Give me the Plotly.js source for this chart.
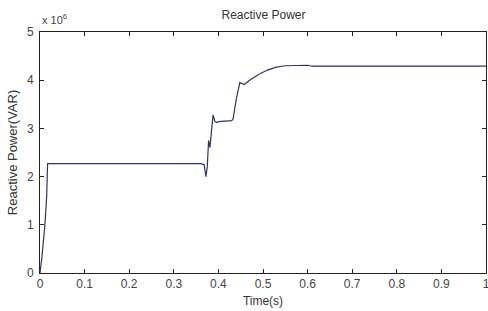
<!DOCTYPE html>
<html>
<head>
<meta charset="utf-8">
<script src="https://cdn.plot.ly/plotly-3.0.1.min.js"></script>
<style>html,body{margin:0;padding:0;background:#fff;}#chart{width:488px;height:311px;}</style>
</head>
<body>
<div id="chart"></div>
<script>
const time = [0, 0.004, 0.011, 0.015, 0.017, 0.02, 0.1, 0.2, 0.3, 0.36, 0.368, 0.372, 0.375, 0.378, 0.381, 0.384, 0.388, 0.392, 0.396, 0.40, 0.41, 0.42, 0.43, 0.433, 0.44, 0.448, 0.452, 0.458, 0.47, 0.49, 0.51, 0.53, 0.55, 0.57, 0.60, 0.61, 0.7, 0.8, 0.9, 1.0];
const reactive = [0, 0.3, 1.0, 1.6, 2.27, 2.27, 2.27, 2.27, 2.27, 2.27, 2.25, 2.0, 2.2, 2.75, 2.6, 2.9, 3.28, 3.15, 3.12, 3.14, 3.15, 3.15, 3.16, 3.2, 3.6, 3.95, 3.93, 3.91, 4.0, 4.12, 4.21, 4.27, 4.30, 4.31, 4.31, 4.29, 4.29, 4.29, 4.29, 4.29];
const xTicks = [0, 0.1, 0.2, 0.3, 0.4, 0.5, 0.6, 0.7, 0.8, 0.9, 1];
const xTickText = ['0', '0.1', '0.2', '0.3', '0.4', '0.5', '0.6', '0.7', '0.8', '0.9', '1'];
const yTicks = [0, 1, 2, 3, 4, 5];
const yTickText = ['0', '1', '2', '3', '4', '5'];
const scale = 1e6;

const FONT = 'Liberation Sans, Arial, sans-serif';

const trace = {
  x: time,
  y: reactive.map(v => v * scale),
  type: 'scatter',
  mode: 'lines',
  line: {color: '#2e3560', width: 1.2},
  hoverinfo: 'skip'
};

const axisCommon = {
  showgrid: false,
  zeroline: false,
  showline: true,
  linecolor: '#222',
  linewidth: 1,
  mirror: 'ticks',
  ticks: 'inside',
  ticklen: 4,
  tickcolor: '#222',
  ticklabeloverflow: 'allow',
  tickfont: {family: FONT, size: 12, color: '#444'}
};

const layout = {
  width: 488, height: 311,
  margin: {l: 40, r: 2, t: 32, b: 38},
  paper_bgcolor: '#fff', plot_bgcolor: '#fff',
  showlegend: false,
  title: {text: 'Reactive Power', font: {family: FONT, size: 12, color: '#333'}, x: 0.54, xanchor: 'center', y: 0.952, yanchor: 'middle'},
  xaxis: Object.assign({}, axisCommon, {
    range: [0, 1], tickvals: xTicks, ticktext: xTickText,
    title: {text: 'Time(s)', font: {family: FONT, size: 12, color: '#333'}, standoff: 6}
  }),
  yaxis: Object.assign({}, axisCommon, {
    range: [0, 5 * scale], tickvals: yTicks.map(v => v * scale), ticktext: yTickText,
    ticklabelstandoff: 3,
    title: {text: 'Reactive Power(VAR)', font: {family: FONT, size: 13, color: '#333'}, standoff: 6}
  }),
  annotations: [
    {text: 'x 10<sup>6</sup>', xref: 'paper', yref: 'paper', x: 0.0, y: 1.0, xanchor: 'left', yanchor: 'bottom', yshift: 4, showarrow: false,
     font: {family: FONT, size: 11, color: '#444'}}
  ]
};

Plotly.newPlot('chart', [trace], layout, {displayModeBar: false, staticPlot: true});
</script>
</body>
</html>
